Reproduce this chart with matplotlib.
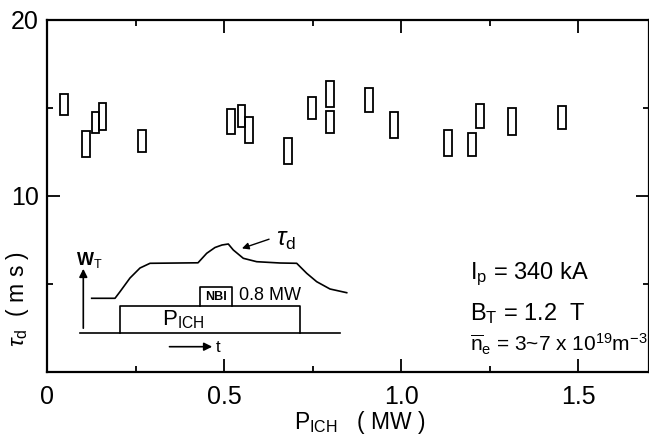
#!/usr/bin/env python3
import matplotlib
matplotlib.use('Agg')
import matplotlib.pyplot as plt
import numpy as np

plt.rcParams['font.family'] = 'Liberation Sans'
plt.rcParams['mathtext.fontset'] = 'custom'
plt.rcParams['mathtext.rm'] = 'Liberation Sans'
plt.rcParams['mathtext.it'] = 'Liberation Sans:italic'
plt.rcParams['mathtext.bf'] = 'Liberation Sans:bold'

# measured points: ICH power (MW) and the tau_d range (ms) of each box
p_ich = [0.049, 0.110, 0.137, 0.157, 0.268, 0.520, 0.549, 0.571, 0.681, 0.749,
         0.800, 0.800, 0.910, 0.981, 1.132, 1.201, 1.223, 1.314, 1.455]
tau_lo = [14.6, 12.2, 13.6, 13.75, 12.5, 13.55, 13.9, 13.0, 11.8, 14.35,
          15.05, 13.6, 14.8, 13.3, 12.3, 12.25, 13.85, 13.45, 13.8]
tau_hi = [15.8, 13.7, 14.8, 15.3, 13.75, 14.95, 15.15, 14.5, 13.3, 15.65,
          16.55, 14.85, 16.15, 14.8, 13.75, 13.6, 15.2, 15.0, 15.1]

# schematic inset (W_T waveform vs time, arbitrary units)
wt_t = [91.7, 115, 120, 130, 140, 150, 198, 206.7, 215, 222, 228.3, 233.3,
        243.3, 256.7, 280, 296.7, 306.7, 316.7, 330, 346.7]
wt_w = [298.3, 298.3, 291.7, 278, 268, 263.3, 262.8, 253.3, 247.5, 245, 244, 250,
        258.3, 261.7, 263, 263.3, 273.3, 281.7, 289, 292.7]
ich_t = [120, 120, 300, 300]
ich_p = [333.3, 306, 306, 333.3]

fig = plt.figure(figsize=(6.49, 4.41), dpi=100)
W, H = 649, 441
ax = fig.add_axes([47 / W, (H - 372) / H, 602 / W, 352 / H])

lo = np.array(tau_lo)
hi = np.array(tau_hi)
ax.bar(p_ich, hi - lo, bottom=lo, width=0.022, fill=False,
       edgecolor='black', linewidth=1.3)

ax.set_xlim(0, 1.7)
ax.set_ylim(0, 20)
ax.set_xticks([0, 0.5, 1.0, 1.5], ['0', '0.5', '1.0', '1.5'])
ax.set_xticks([0.25, 0.75, 1.25], minor=True)
ax.set_yticks([10, 20])
ax.set_yticks([5, 15], minor=True)
ax.tick_params(which='both', direction='in', top=True, right=True, width=1.3)
ax.tick_params(which='major', length=9.5)
ax.tick_params(which='minor', length=4.5)
ax.tick_params(axis='x', which='major', labelsize=18, pad=9)
ax.tick_params(axis='y', which='major', labelsize=18, pad=6)
for s in ax.spines.values():
    s.set_linewidth(1.6)

fig.text(18 / W, (H - 299) / H, r'$\tau_{\mathrm{d}}$  ( m s )', rotation=90,
         ha='center', va='center', fontsize=16.5)
fig.text(360 / W, (H - 423) / H, r'P$_{\mathrm{ICH}}$   ( MW )',
         ha='center', va='center', fontsize=16.5)

ax.text(1.195, 5.27, r'I$_{\mathrm{p}}$ = 340 kA', fontsize=17, va='baseline')
ax.text(1.195, 2.95, r'B$_{\mathrm{T}}$ = 1.2  T', fontsize=17, va='baseline')
ax.text(1.195, 1.19, r'$\overline{\mathrm{n}}_{\mathrm{e}}$ = 3~7 x 10$^{19}$m$^{-3}$',
        fontsize=15, va='baseline')

# inset schematic
ins = fig.add_axes([70 / W, (H - 365) / H, 290 / W, 135 / H])
ins.set_xlim(70, 360)
ins.set_ylim(365, 230)
ins.axis('off')
lw = 1.2
ins.plot(wt_t, wt_w, color='black', lw=lw)
ins.plot([80, 340], [333.3, 333.3], color='black', lw=lw)
ins.plot(ich_t, ich_p, color='black', lw=lw)
ins.plot([200, 200, 231.7, 231.7], [306, 287.3, 287.3, 306], color='black', lw=lw)
ins.annotate('', xy=(83.3, 266), xytext=(83.3, 331),
             arrowprops=dict(arrowstyle='-|>', color='black', lw=lw, mutation_scale=12))
ins.annotate('', xy=(215, 346.7), xytext=(166.7, 346.7),
             arrowprops=dict(arrowstyle='-|>', color='black', lw=lw, mutation_scale=12))
ins.annotate('', xy=(239.3, 249.3), xytext=(271.7, 238.3),
             arrowprops=dict(arrowstyle='-|>', color='black', lw=1.0, mutation_scale=10))
ins.text(76, 260, r'W$_{\mathrm{T}}$', fontsize=13, fontweight='bold', va='center')
ins.text(276, 240, r'$\tau_{\mathrm{d}}$', fontsize=18, va='center')
ins.text(216, 348, 't', fontsize=12, va='center')
ins.text(215.8, 297, 'NBI', fontsize=9, fontweight='bold', ha='center', va='center')
ins.text(239, 295, '0.8 MW', fontsize=13, va='center')
ins.text(162, 320, r'P$_{\mathrm{ICH}}$', fontsize=16, va='center')

fig.savefig('out.png', dpi=100)
